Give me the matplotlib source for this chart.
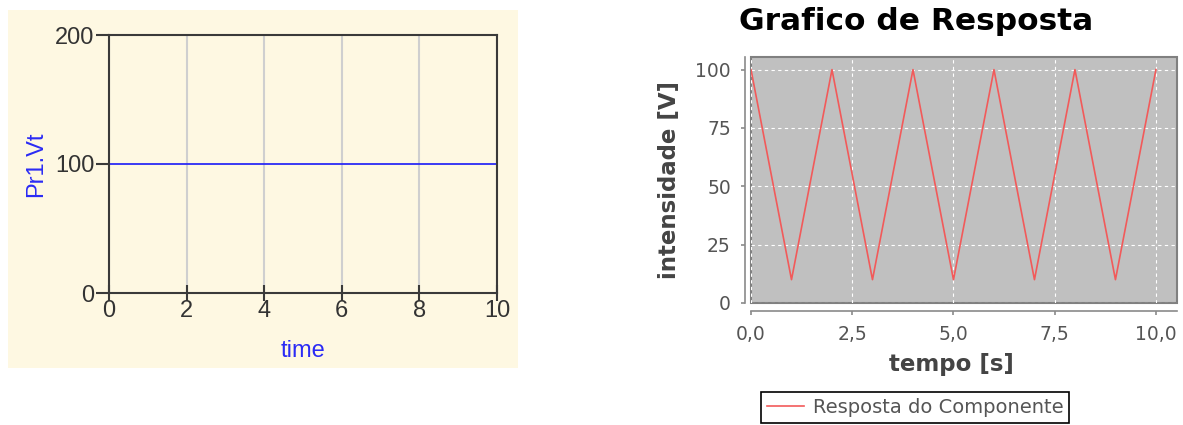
import numpy as np
import matplotlib
matplotlib.use("Agg")
import matplotlib.pyplot as plt
from matplotlib.patches import Rectangle
from matplotlib.ticker import FixedLocator, FuncFormatter

W, H = 1183, 425
plt.rcParams["figure.dpi"] = 100
plt.rcParams["savefig.dpi"] = 100

# left panel data (probe Pr1.Vt)
time_pts = [0, 10]
vt_vals = [100, 100]

# right panel data (triangle response)
tempo = [0, 1, 2, 3, 4, 5, 6, 7, 8, 9, 10]
resposta = [100, 10, 100, 10, 100, 10, 100, 10, 100, 10, 100]

CREAM = "#FEF8E2"
BLUE = "#2B2BF5"
RED = "#F25A5A"
PLOT_BG = "#C0C0C0"


def px_axes(fig, x0, y0, x1, y1):
    # pixel box (top-left origin) -> axes
    return fig.add_axes([x0 / W, 1 - y1 / H, (x1 - x0) / W, (y1 - y0) / H])


fig = plt.figure(figsize=(W / 100, H / 100))
fig.patch.set_facecolor("white")

# ------------------------------------------------------------------
# left: cream panel
# ------------------------------------------------------------------
fig.patches.append(Rectangle((8 / W, 1 - 368 / H), 510 / W, 358 / H,
                             transform=fig.transFigure, facecolor=CREAM,
                             edgecolor="none", zorder=-10))

ax1 = px_axes(fig, 109, 35, 497, 293)
ax1.set_zorder(2)
ax1.set_facecolor(CREAM)
ax1.plot(time_pts, vt_vals, color=BLUE, lw=1.3)
ax1.set_xlim(0, 10)
ax1.set_ylim(0, 200)
ax1.set_xticks([0, 2, 4, 6, 8, 10])
ax1.set_yticks([0, 100, 200])
ax1.grid(True, axis="x", color="#CFCFCF", lw=1.5)
ax1.set_axisbelow(True)
for s in ax1.spines.values():
    s.set_color("#3A3A3A")
    s.set_linewidth(1.5)
lfont = ["Liberation Sans", "DejaVu Sans"]
ax1.tick_params(axis="x", direction="inout", length=12, width=1.5, color="#3A3A3A",
                labelsize=17, labelcolor="#333333", pad=-1)
ax1.tick_params(axis="y", direction="out", length=9.5, width=1.5, color="#3A3A3A",
                labelsize=17, labelcolor="#333333", pad=1)
for lab in ax1.get_xticklabels() + ax1.get_yticklabels():
    lab.set_family(lfont)
ax1.set_xlabel("time", color=BLUE, fontsize=17, family=lfont, labelpad=13)
ax1.set_ylabel("Pr1.Vt", color=BLUE, fontsize=17, family=lfont, labelpad=6)

# ------------------------------------------------------------------
# right: response chart
# ------------------------------------------------------------------
ax2 = px_axes(fig, 751, 57, 1177, 303)
ax2.set_facecolor(PLOT_BG)
ax2.patch.set_edgecolor("#808080")
ax2.patch.set_linewidth(1.5)
ax2.plot(tempo, resposta, color=RED, lw=1.2)
ax2.set_xlim(0, 10.52)
ax2.set_ylim(0, 105.4)
ax2.xaxis.set_major_locator(FixedLocator([0, 2.5, 5, 7.5, 10]))
ax2.yaxis.set_major_locator(FixedLocator([0, 25, 50, 75, 100]))
ax2.xaxis.set_major_formatter(FuncFormatter(lambda v, p: f"{v:.1f}".replace(".", ",")))
ax2.grid(True, color="white", ls=(0, (3, 3)), lw=0.8)
ax2.set_axisbelow(True)
ax2.spines["top"].set_visible(False)
ax2.spines["right"].set_visible(False)
ax2.spines["left"].set_position(("outward", 4.5))
ax2.spines["bottom"].set_position(("outward", 6))
for s in ("left", "bottom"):
    ax2.spines[s].set_color("#8A8A8A")
    ax2.spines[s].set_linewidth(1.2)
ax2.tick_params(direction="out", length=3, width=1.2, color="#8A8A8A",
                labelsize=13.5, labelcolor="#555555")
ax2.tick_params(axis="y", pad=7)
ax2.tick_params(axis="x", pad=7)
ax2.set_xlabel("tempo [s]", fontsize=16.5, fontweight="bold", color="#444444")
ax2.xaxis.set_label_coords(0.47, -0.205)
ax2.set_ylabel("intensidade [V]", fontsize=16.5, fontweight="bold", color="#444444")
ax2.yaxis.set_label_coords(-0.165, 0.5)

fig.text(916 / W, 1 - 21 / H, "Grafico de Resposta", ha="center", va="center",
         fontsize=22.5, fontweight="bold", color="black")

leg = fig.legend(handles=ax2.lines, labels=["Resposta do Componente"],
                 loc="upper center", bbox_to_anchor=(915 / W, 1 - 392 / H),
                 fancybox=False, framealpha=1, edgecolor="black", fontsize=14,
                 handlelength=1.9, handletextpad=0.45, borderpad=0.3,
                 borderaxespad=0)
leg.get_frame().set_linewidth(1.2)
for t in leg.get_texts():
    t.set_color("#555555")

fig.savefig("out.png")
